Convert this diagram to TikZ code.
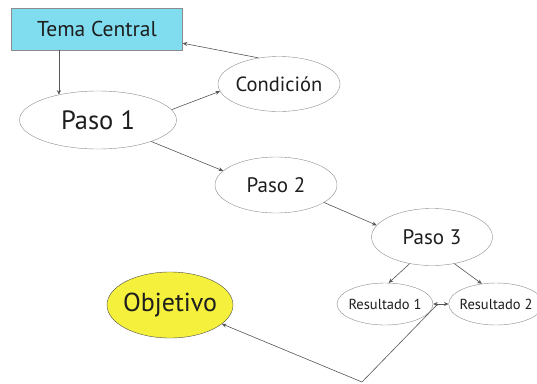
\documentclass[tikz,border=0pt]{standalone}
\usepackage{fontspec}
\setmainfont{PT Sans}
\usetikzlibrary{arrows.meta,positioning,shapes.geometric,calc}
\definecolor{mapcyan}{RGB}{128,221,240}
\definecolor{mapyellow}{RGB}{245,240,60}
\definecolor{mapline}{RGB}{85,85,85}
\definecolor{mapedge}{RGB}{140,140,140}
\definecolor{maptext}{RGB}{30,30,30}
\tikzset{
  mbox/.style={rectangle, draw=mapedge, fill=mapcyan, text=maptext, minimum width=171pt, minimum height=42pt, inner sep=0pt, font=\fontsize{21.5}{23}\selectfont},
  mell/.style={ellipse, draw=mapedge, fill=white, text=maptext, inner sep=-3pt, font=\fontsize{21}{23}\selectfont},
  marr/.style={-{Stealth[length=4.5pt,width=4pt]}, mapline, line width=0.6pt},
}
\begin{document}
\begin{tikzpicture}[x=1pt,y=-1pt]
  \useasboundingbox (0,0) rectangle (537,383);
  \node[mbox](tema) at (97,29){Tema Central};
  \node[mell,minimum width=157pt,minimum height=58pt,font=\fontsize{26.5}{28}\selectfont](paso1) at (98,120){Paso 1};
  \node[mell,minimum width=122pt,minimum height=55pt,font=\fontsize{20.5}{22}\selectfont](cond) at (279,84){Condición};
  \node[mell,minimum width=122pt,minimum height=56pt](paso2) at (276,185){Paso 2};
  \node[mell,minimum width=121pt,minimum height=57pt](paso3) at (432,237){Paso 3};
  \node[mell,minimum width=96pt,minimum height=42pt,font=\fontsize{14.5}{16}\selectfont](res1) at (385,304){Resultado 1};
  \node[mell,minimum width=92pt,minimum height=42pt,font=\fontsize{14.5}{16}\selectfont](res2) at (496,304){Resultado 2};
  \node[mell,draw=black!70,fill=mapyellow,minimum width=126pt,minimum height=66pt,font=\fontsize{26}{28}\selectfont](obj) at (170,305){Objetivo};
  % connectors
  \draw[marr](paso1.147 |- tema.south)--(paso1.147);
  \draw[marr](cond.128)--([yshift=7pt]tema.south east);
  \draw[marr](paso1.8)--(cond.187);
  \draw[marr](paso1.-22)--(paso2.165);
  \draw[marr](paso2.-20)--(paso3.168);
  \draw[marr](paso3.-130)--(res1.80);
  \draw[marr](paso3.-50)--(res2.125);
  \draw[{Stealth[length=4.5pt,width=4pt]}-{Stealth[length=4.5pt,width=4pt]}, mapline, line width=0.6pt](res1.east)--(res2.west);
  \coordinate(j) at ($(res1.east)!0.3!(res2.west)$);
  \coordinate(b) at (362,382);
  \draw[marr](j)--(b)--(obj.-20);
\end{tikzpicture}
\end{document}
